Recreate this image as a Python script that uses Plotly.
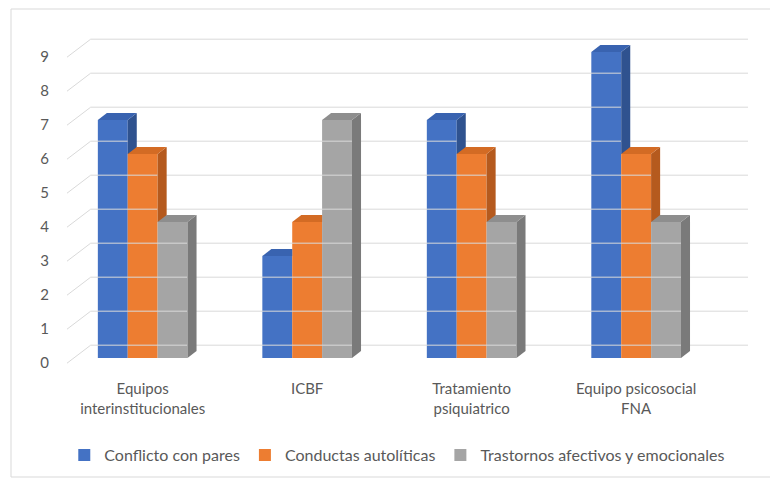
import plotly.graph_objects as go

categories = ["Equipos<br>interinstitucionales", "ICBF", "Tratamiento<br>psiquiatrico", "Equipo psicosocial<br>FNA"]
series_names = ["Conflicto con pares", "Conductas autolíticas", "Trastornos afectivos y emocionales"]
conflicto = [7, 3, 7, 9]
conductas = [6, 4, 6, 6]
trastornos = [4, 7, 4, 4]
y_ticks = [0, 1, 2, 3, 4, 5, 6, 7, 8, 9]

series = [conflicto, conductas, trastornos]
front_colors = ["#4472C4", "#ED7D31", "#A5A5A5"]
side_colors = ["#2F528F", "#B55A1E", "#7A7A7A"]
top_colors = ["#3963B0", "#D36B24", "#8E8E8E"]

FONT = "Lato"
BARGAP = 0.455
n = len(series)
w = (1 - BARGAP) / n      # bar width in x units
dx = 0.055                # depth offset (x units)
dy = 0.21                 # depth offset (y units)
back_dy = 0.38
xs = list(range(len(categories)))
x_min, x_max = -0.46, 3.68
y_min, y_max = -0.35, 9.65

fig = go.Figure()

# back wall gridlines and slanted ticks
for v in y_ticks:
    fig.add_trace(go.Scatter(x=[x_min + 0.144, x_max], y=[v + back_dy, v + back_dy], mode="lines",
                             line=dict(color="#D9D9D9", width=1), hoverinfo="skip", showlegend=False))
    fig.add_trace(go.Scatter(x=[x_min, x_min + 0.144], y=[v - 0.15, v + back_dy], mode="lines",
                             line=dict(color="#D9D9D9", width=1), hoverinfo="skip", showlegend=False))

# front faces
for k, (name, vals) in enumerate(zip(series_names, series)):
    fig.add_trace(go.Bar(x=xs, y=vals, name=name, marker=dict(color=front_colors[k], line=dict(width=0)),
                         width=w))

# side and top faces (painter order, clipped against the next bar's front)
for i in xs:
    for k in range(n):
        v = series[k][i]
        xl = i + (k - n / 2) * w
        xr = xl + w
        v_next = series[k + 1][i] if k + 1 < n else 0
        if v_next >= v + dy:
            tx = [xl, xr, xr, xl + dx, xl]
            ty = [v, v, v + dy, v + dy, v]
        else:
            tx = [xl, xr, xr + dx, xl + dx, xl]
            ty = [v, v, v + dy, v + dy, v]
            lo = max(v_next, 0)
            if k + 1 < n:
                sx = [xr, xr, xr + dx, xr + dx, xr]
                sy = [lo, v, v + dy, lo, lo]
            else:
                sx = [xr, xr, xr + dx, xr + dx, xr]
                sy = [0, v, v + dy, dy, 0]
            fig.add_trace(go.Scatter(x=sx, y=sy, fill="toself", mode="lines", fillcolor=side_colors[k],
                                     line=dict(width=0, color=side_colors[k]), hoverinfo="skip", showlegend=False))
        fig.add_trace(go.Scatter(x=tx, y=ty, fill="toself", mode="lines", fillcolor=top_colors[k],
                                 line=dict(width=0, color=top_colors[k]), hoverinfo="skip", showlegend=False))

W, H = 770, 471
L, R, T, B = 59, 30, 22, 109
pw, ph = W - L - R, H - T - B

fig.update_layout(
    width=W, height=H,
    margin=dict(l=L, r=R, t=T, b=B, autoexpand=False),
    paper_bgcolor="white", plot_bgcolor="white",
    barmode="group", bargap=BARGAP, bargroupgap=0,
    font=dict(family=FONT, color="#595959", size=15),
    xaxis=dict(range=[x_min, x_max], tickvals=xs, ticktext=categories, showgrid=False, zeroline=False,
               showline=False, ticks="", ticklabelstandoff=8, automargin=False,
               tickfont=dict(size=15, color="#595959")),
    yaxis=dict(range=[y_min, y_max], tickvals=y_ticks, showgrid=False, zeroline=False, showline=False,
               ticks="", ticklabelstandoff=17, ticklabelshift=5, automargin=False,
               tickfont=dict(size=15, color="#595959")),
    legend=dict(orientation="h", x=0.485, xanchor="center", y=-0.25, yanchor="middle",
                font=dict(size=16, color="#595959"), traceorder="normal"),
    showlegend=True,
    shapes=[dict(type="rect", xref="paper", yref="paper",
                 x0=(3 - L) / pw, x1=(769 - L) / pw,
                 y0=(H - B - 469) / ph, y1=(H - B - 1) / ph,
                 line=dict(color="#D9D9D9", width=1), layer="below")],
)

fig.write_html("out.html")
